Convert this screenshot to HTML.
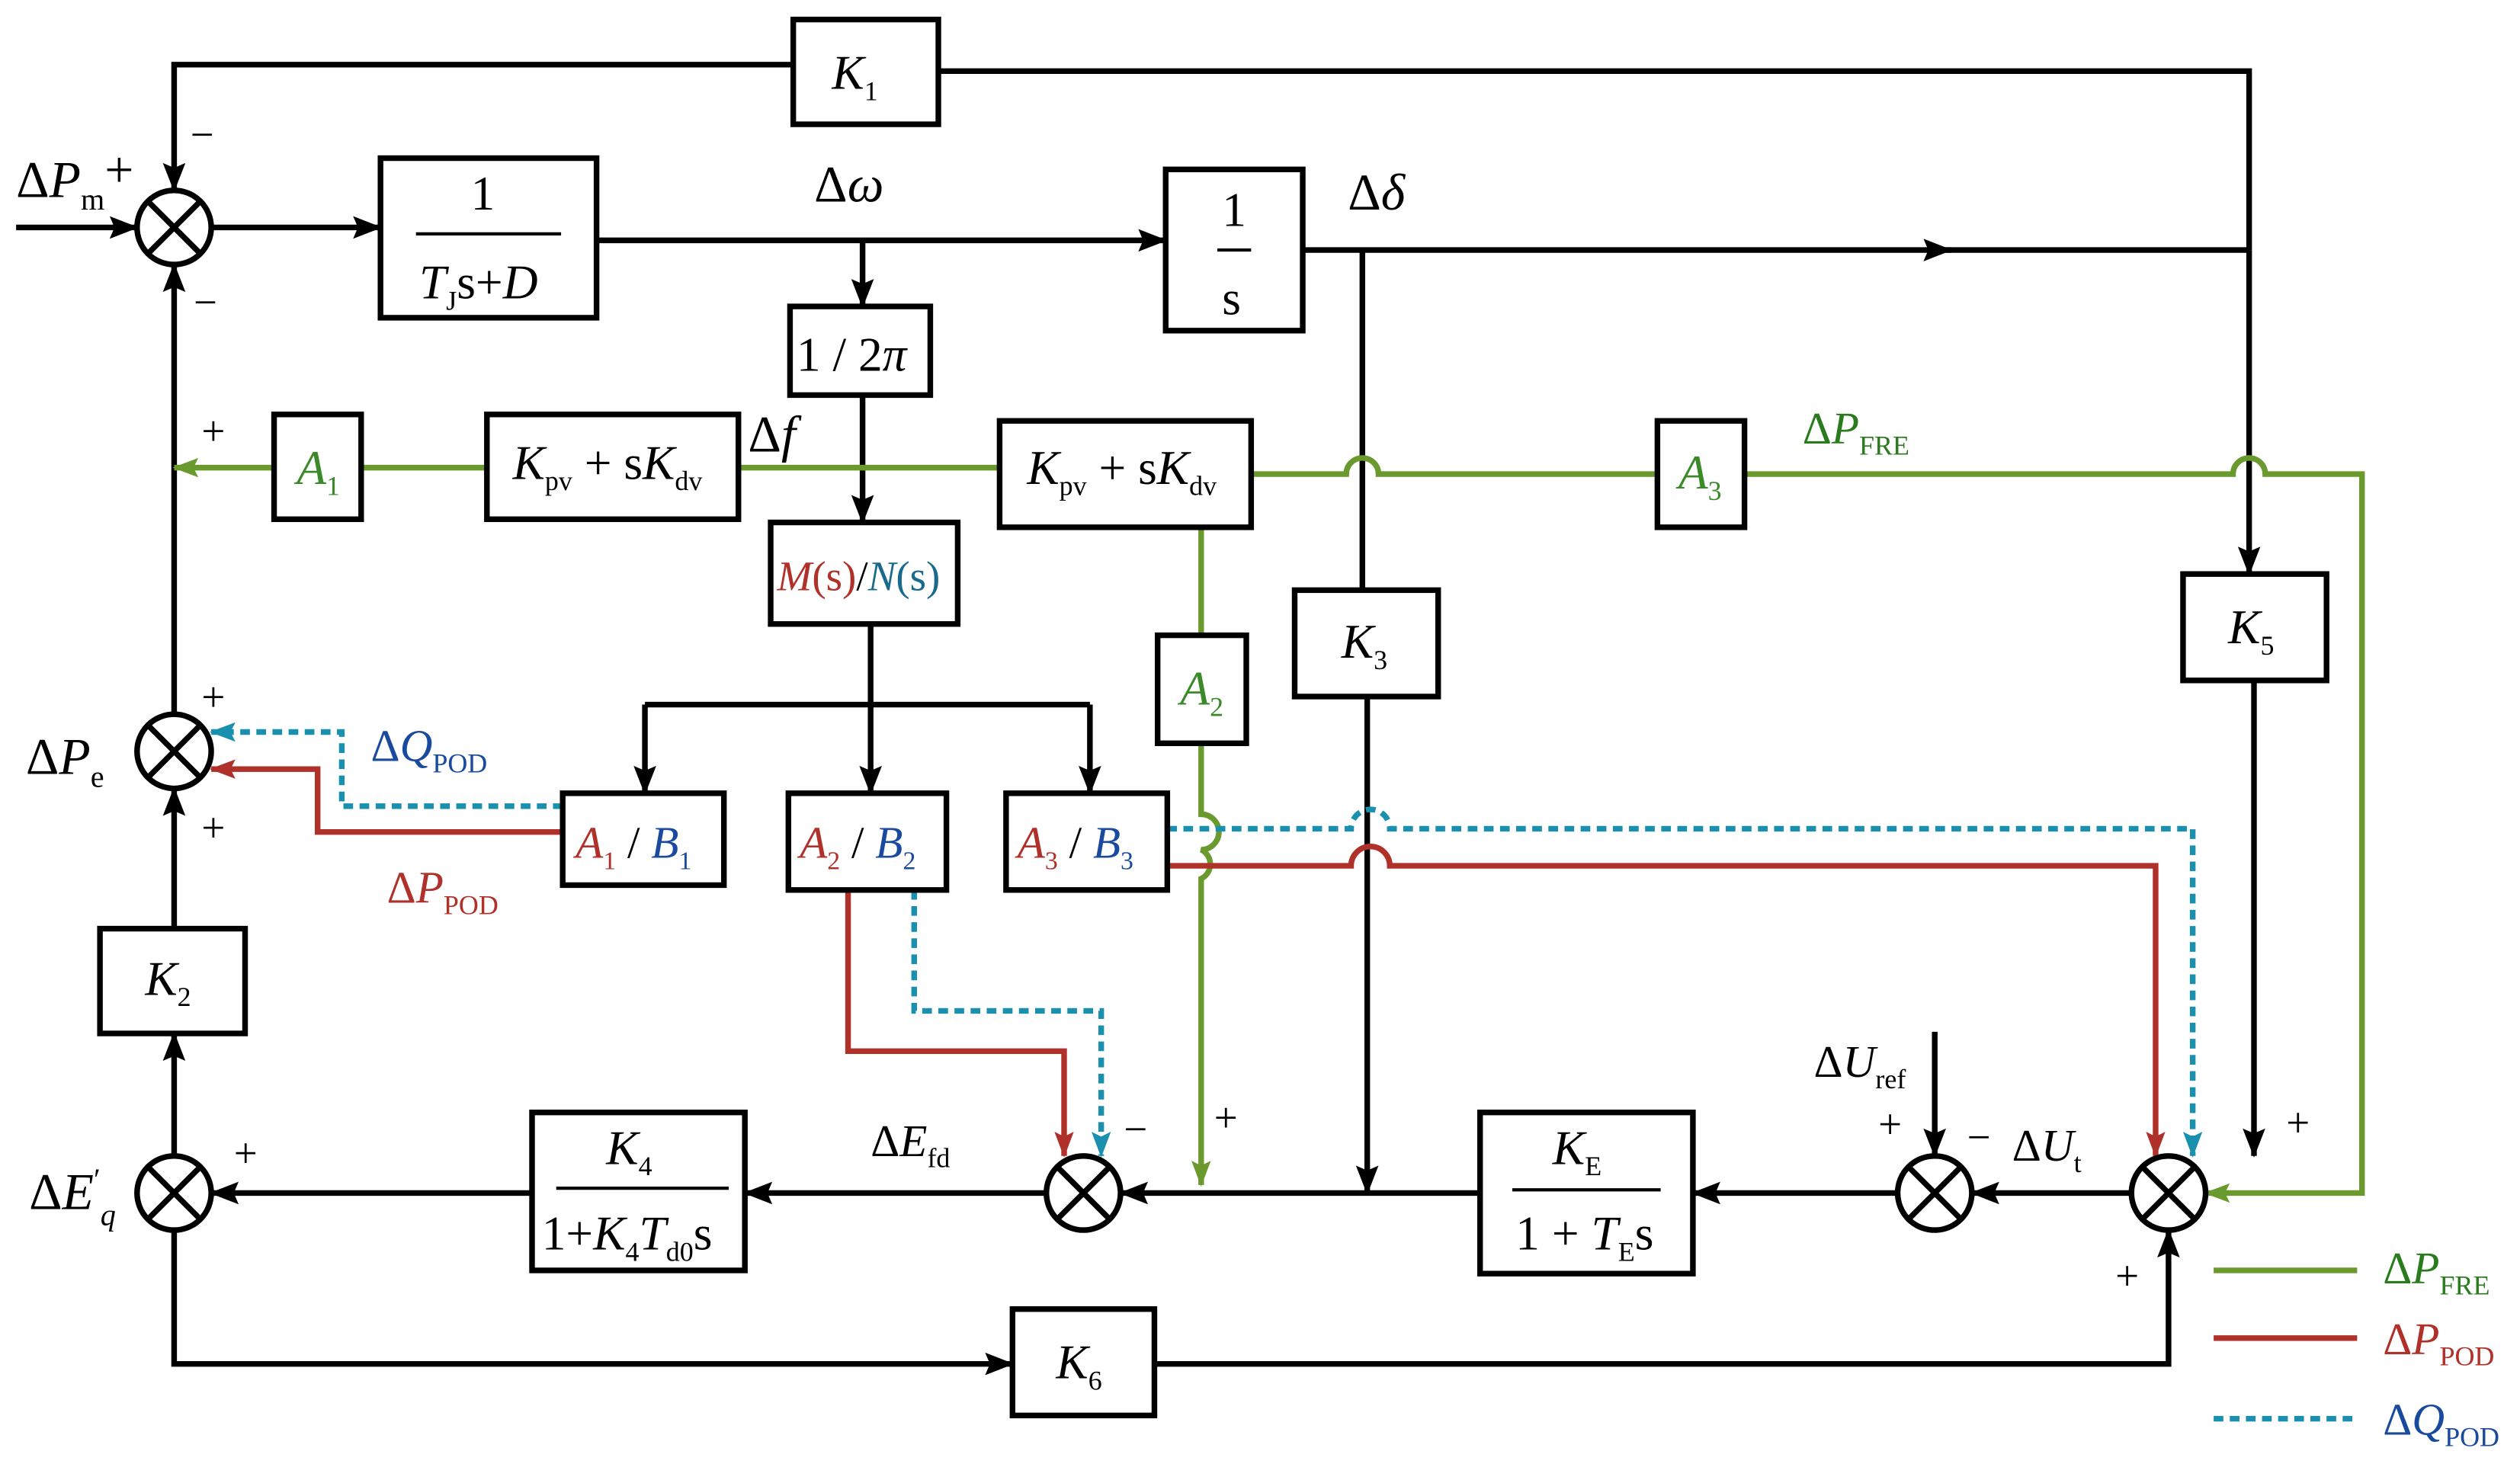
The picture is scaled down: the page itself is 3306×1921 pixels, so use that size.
<!DOCTYPE html>
<html><head><meta charset="utf-8"><style>
html,body{margin:0;padding:0;background:#fff;}
svg{display:block;}
text{font-family:"Liberation Serif","Times New Roman",serif;}
.i{font-style:italic;}
</style></head><body>
<svg width="3306" height="1921" viewBox="0 0 1563 908" xmlns="http://www.w3.org/2000/svg">
<defs>
<marker id="ag" markerWidth="16" markerHeight="12" refX="15" refY="6" orient="auto" markerUnits="userSpaceOnUse"><path d="M0,0 L16,6 L0,12 L3,6z" fill="#6a9a2e"/></marker>
<marker id="ar" markerWidth="16" markerHeight="12" refX="15" refY="6" orient="auto" markerUnits="userSpaceOnUse"><path d="M0,0 L16,6 L0,12 L3,6z" fill="#b0302a"/></marker>
<marker id="ab" markerWidth="16" markerHeight="12" refX="15" refY="6" orient="auto" markerUnits="userSpaceOnUse"><path d="M0,0 L16,6 L0,12 L3,6z" fill="#1a8fae"/></marker>
<marker id="akb" markerWidth="18" markerHeight="14" refX="17" refY="7" orient="auto" markerUnits="userSpaceOnUse"><path d="M0,0 L18,7 L0,14 L3,7z" fill="#000"/></marker>
</defs>
<g fill="none" stroke="#000" stroke-width="3.5">
<path d="M10,141 H85" marker-end="url(#akb)"/>
<path d="M131,141 H236" marker-end="url(#akb)"/>
<path d="M370,149 H723" marker-end="url(#akb)"/>
<path d="M535,149 V190" marker-end="url(#akb)"/>
<path d="M808,155 H1210" marker-end="url(#akb)"/>
<path d="M1200,155 H1395"/>
<path d="M1395,155 V44 H582"/>
<path d="M492,40 H108 V118" marker-end="url(#akb)"/>
<path d="M1395,155 V356" marker-end="url(#akb)"/>
<path d="M1398,422 V717" marker-end="url(#akb)"/>
<path d="M845,155 V366"/>
<path d="M848,432 V740" marker-end="url(#akb)"/>
<path d="M535,245 V324" marker-end="url(#akb)"/>
<path d="M540,387 V437 M400,437 H676"/>
<path d="M400,437 V492" marker-end="url(#akb)"/>
<path d="M540,437 V492" marker-end="url(#akb)"/>
<path d="M676,437 V492" marker-end="url(#akb)"/>
<path d="M108,443 V164" marker-end="url(#akb)"/>
<path d="M108,576 V489" marker-end="url(#akb)"/>
<path d="M108,717 V641" marker-end="url(#akb)"/>
<path d="M108,763 V846 H628" marker-end="url(#akb)"/>
<path d="M716,846 H1345 V763" marker-end="url(#akb)"/>
<path d="M330,740 H131" marker-end="url(#akb)"/>
<path d="M649,740 H462" marker-end="url(#akb)"/>
<path d="M918,740 H695" marker-end="url(#akb)"/>
<path d="M1177,740 H1050" marker-end="url(#akb)"/>
<path d="M1322,740 H1223" marker-end="url(#akb)"/>
<path d="M1200,640 V717" marker-end="url(#akb)"/>
</g>
<g fill="none" stroke="#6a9a2e" stroke-width="3.5">
<path d="M620,290 H458 M302,290 H224"/>
<path d="M170,290 H108" marker-end="url(#ag)"/>
<path d="M776,294 H835 a10,10 0 0 1 20,0 H1028"/>
<path d="M1082,294 H1385 a10,10 0 0 1 20,0 H1465 V740 H1368" marker-end="url(#ag)"/>
<path d="M745,327 V394"/>
<path d="M745,461 V505 a11,11 0 0 1 0,22 a10,10 0 0 1 0,18 V735" marker-end="url(#ag)"/>
<path d="M1373,788 H1462"/>
</g>
<g fill="none" stroke="#b0302a" stroke-width="3.5">
<path d="M349,516 H197 V477 H131" marker-end="url(#ar)"/>
<path d="M526,552 V652 H660 V717" marker-end="url(#ar)"/>
<path d="M724,537 H838 a12,12 0 0 1 24,0 H1337 V717" marker-end="url(#ar)"/>
<path d="M1373,830 H1462"/>
</g>
<g fill="none" stroke="#1a8fae" stroke-width="3.5" stroke-dasharray="6,4">
<path d="M349,500 H212 V454 H131" marker-end="url(#ab)"/>
<path d="M567,552 V627 H683 V717" marker-end="url(#ab)"/>
<path d="M724,514 H838 a12,12 0 0 1 24,0 H1360 V717" marker-end="url(#ab)"/>
<path d="M1373,880 H1462"/>
</g>
<g fill="#fff" stroke="#000" stroke-width="3.5">
<rect x="492" y="12" width="90" height="65"/>
<rect x="236" y="98" width="134" height="99"/>
<rect x="723" y="105" width="85" height="100"/>
<rect x="490" y="190" width="87" height="55"/>
<rect x="170" y="257" width="54" height="65"/>
<rect x="302" y="257" width="156" height="65"/>
<rect x="620" y="261" width="156" height="66"/>
<rect x="1028" y="261" width="54" height="66"/>
<rect x="478" y="324" width="116" height="63"/>
<rect x="803" y="366" width="89" height="66"/>
<rect x="1354" y="356" width="89" height="66"/>
<rect x="718" y="394" width="55" height="67"/>
<rect x="349" y="492" width="100" height="57"/>
<rect x="489" y="492" width="98" height="60"/>
<rect x="624" y="492" width="100" height="60"/>
<rect x="62" y="576" width="90" height="65"/>
<rect x="330" y="690" width="132" height="98"/>
<rect x="918" y="690" width="132" height="100"/>
<rect x="628" y="812" width="88" height="66"/>
</g>
<g fill="#fff" stroke="#000" stroke-width="3.5">
<g transform="translate(108,141)"><circle r="23"/><path d="M-16,-16 L16,16 M-16,16 L16,-16"/></g>
<g transform="translate(108,466)"><circle r="23"/><path d="M-16,-16 L16,16 M-16,16 L16,-16"/></g>
<g transform="translate(108,740)"><circle r="23"/><path d="M-16,-16 L16,16 M-16,16 L16,-16"/></g>
<g transform="translate(672,740)"><circle r="23"/><path d="M-16,-16 L16,16 M-16,16 L16,-16"/></g>
<g transform="translate(1200,740)"><circle r="23"/><path d="M-16,-16 L16,16 M-16,16 L16,-16"/></g>
<g transform="translate(1345,740)"><circle r="23"/><path d="M-16,-16 L16,16 M-16,16 L16,-16"/></g>
</g>
<g stroke="#000" stroke-width="2">
<path d="M258,145 H348 M755,155 H776 M345,737 H452 M938,738 H1030"/>
</g>
<g font-size="30" fill="#000">
<text x="516" y="55" class="i">K<tspan font-size="17" font-style="normal" dy="7">1</tspan></text>
<text x="292" y="130">1</text>
<text x="260" y="185" class="i">T<tspan font-size="17" font-style="normal" dy="7">J</tspan><tspan font-style="normal" dy="-7">s+</tspan>D</text>
<text x="758" y="140">1</text>
<text x="758" y="195">s</text>
<text x="494" y="230">1 / 2<tspan class="i">π</tspan></text>
<text x="184" y="300" class="i" fill="#3a8a2a">A<tspan font-size="17" font-style="normal" dy="7">1</tspan></text>
<text x="318" y="297" class="i">K<tspan font-size="17" font-style="normal" dy="7">pv</tspan><tspan font-style="normal" dy="-7"> + s</tspan>K<tspan font-size="17" font-style="normal" dy="7">dv</tspan></text>
<text x="637" y="300" class="i">K<tspan font-size="17" font-style="normal" dy="7">pv</tspan><tspan font-style="normal" dy="-7"> + s</tspan>K<tspan font-size="17" font-style="normal" dy="7">dv</tspan></text>
<text x="1041" y="303" class="i" fill="#3a8a2a">A<tspan font-size="17" font-style="normal" dy="7">3</tspan></text>
<text x="482" y="366" font-size="26"><tspan fill="#b0302a"><tspan class="i">M</tspan>(s)</tspan>/<tspan fill="#1a6a8e"><tspan class="i">N</tspan>(s)</tspan></text>
<text x="832" y="408" class="i">K<tspan font-size="17" font-style="normal" dy="7">3</tspan></text>
<text x="1382" y="399" class="i">K<tspan font-size="17" font-style="normal" dy="7">5</tspan></text>
<text x="732" y="437" class="i" fill="#3a8a2a">A<tspan font-size="17" font-style="normal" dy="7">2</tspan></text>
<text x="357" y="532" font-size="28"><tspan class="i" fill="#b0302a">A</tspan><tspan font-size="16" dy="7" fill="#b0302a">1</tspan><tspan dy="-7"> / </tspan><tspan class="i" fill="#1a4a9e">B</tspan><tspan font-size="16" dy="7" fill="#1a4a9e">1</tspan></text>
<text x="496" y="532" font-size="28"><tspan class="i" fill="#b0302a">A</tspan><tspan font-size="16" dy="7" fill="#b0302a">2</tspan><tspan dy="-7"> / </tspan><tspan class="i" fill="#1a4a9e">B</tspan><tspan font-size="16" dy="7" fill="#1a4a9e">2</tspan></text>
<text x="631" y="532" font-size="28"><tspan class="i" fill="#b0302a">A</tspan><tspan font-size="16" dy="7" fill="#b0302a">3</tspan><tspan dy="-7"> / </tspan><tspan class="i" fill="#1a4a9e">B</tspan><tspan font-size="16" dy="7" fill="#1a4a9e">3</tspan></text>
<text x="90" y="617" class="i">K<tspan font-size="17" font-style="normal" dy="7">2</tspan></text>
<text x="376" y="722" class="i">K<tspan font-size="17" font-style="normal" dy="7">4</tspan></text>
<text x="336" y="775">1+<tspan class="i">K</tspan><tspan font-size="17" dy="7">4</tspan><tspan class="i" dy="-7">T</tspan><tspan font-size="17" dy="7">d0</tspan><tspan dy="-7">s</tspan></text>
<text x="963" y="722" class="i">K<tspan font-size="17" font-style="normal" dy="7">E</tspan></text>
<text x="940" y="775">1 + <tspan class="i">T</tspan><tspan font-size="17" dy="7">E</tspan><tspan dy="-7">s</tspan></text>
<text x="655" y="855" class="i">K<tspan font-size="17" font-style="normal" dy="7">6</tspan></text>
</g>
<g font-size="32" fill="#000">
<text x="10" y="122">Δ<tspan class="i">P</tspan><tspan font-size="19" dy="8">m</tspan><tspan dy="-14">+</tspan></text>
<text x="118" y="92" font-size="26">−</text>
<text x="120" y="196" font-size="26">−</text>
<text x="505" y="125">Δ<tspan class="i">ω</tspan></text>
<text x="836" y="130">Δ<tspan class="i">δ</tspan></text>
<text x="464" y="280">Δ<tspan class="i">f</tspan></text>
<text x="125" y="276" font-size="26">+</text>
<text x="1118" y="275" font-size="28" fill="#2a7a1e">Δ<tspan class="i">P</tspan><tspan font-size="17" dy="7">FRE</tspan></text>
<text x="125" y="441" font-size="26">+</text>
<text x="125" y="522" font-size="26">+</text>
<text x="16" y="480">Δ<tspan class="i">P</tspan><tspan font-size="19" dy="8">e</tspan></text>
<text x="230" y="472" font-size="28" fill="#1a4a9e">Δ<tspan class="i">Q</tspan><tspan font-size="17" dy="7">POD</tspan></text>
<text x="240" y="560" font-size="28" fill="#b0302a">Δ<tspan class="i">P</tspan><tspan font-size="17" dy="7">POD</tspan></text>
<text x="18" y="750">Δ<tspan class="i">E</tspan><tspan font-size="19" dy="-12">′</tspan><tspan font-size="19" class="i" dy="22">q</tspan></text>
<text x="145" y="724" font-size="26">+</text>
<text x="540" y="717" font-size="28">Δ<tspan class="i">E</tspan><tspan font-size="17" dy="7">fd</tspan></text>
<text x="697" y="709" font-size="26">−</text>
<text x="753" y="702" font-size="26">+</text>
<text x="1125" y="668" font-size="28">Δ<tspan class="i">U</tspan><tspan font-size="17" dy="7">ref</tspan></text>
<text x="1165" y="706" font-size="26">+</text>
<text x="1220" y="714" font-size="26">−</text>
<text x="1248" y="720" font-size="28">Δ<tspan class="i">U</tspan><tspan font-size="17" dy="7">t</tspan></text>
<text x="1418" y="705" font-size="26">+</text>
<text x="1312" y="800" font-size="26">+</text>
<text x="1478" y="796" font-size="28" fill="#2a7a1e">Δ<tspan class="i">P</tspan><tspan font-size="17" dy="7">FRE</tspan></text>
<text x="1478" y="840" font-size="28" fill="#b0302a">Δ<tspan class="i">P</tspan><tspan font-size="17" dy="7">POD</tspan></text>
<text x="1478" y="890" font-size="28" fill="#1a4a9e">Δ<tspan class="i">Q</tspan><tspan font-size="17" dy="7">POD</tspan></text>
</g>
</svg>
</body></html>
